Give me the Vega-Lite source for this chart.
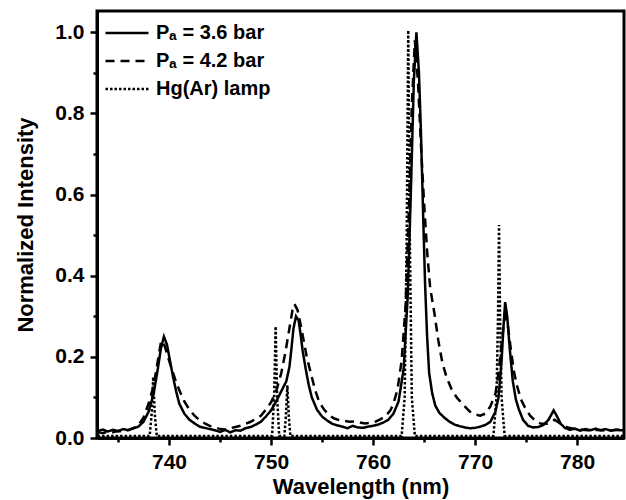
{
  "$schema": "https://vega.github.io/schema/vega-lite/v6.json",
  "width": 527,
  "height": 427,
  "autosize": "none",
  "padding": {"left": 97, "top": 11, "right": 2, "bottom": 62},
  "background": "white",
  "config": {
    "view": {"stroke": "black", "strokeWidth": 3},
    "axis": {
      "grid": false,
      "domainColor": "black",
      "domainWidth": 3,
      "tickColor": "black",
      "tickWidth": 2.5,
      "labelFont": "Liberation Sans",
      "labelFontWeight": "bold",
      "labelFontSize": 21,
      "labelColor": "black",
      "titleFont": "Liberation Sans",
      "titleFontWeight": "bold",
      "titleFontSize": 22,
      "titleColor": "black"
    },
    "legend": {
      "labelFont": "Liberation Sans",
      "labelFontWeight": "bold",
      "labelFontSize": 20,
      "labelColor": "black"
    }
  },
  "data": {
    "values": [
      {"series": "a", "wavelength": 733.0, "intensity": 0.017},
      {"series": "a", "wavelength": 733.5, "intensity": 0.021},
      {"series": "a", "wavelength": 734.0, "intensity": 0.016},
      {"series": "a", "wavelength": 734.5, "intensity": 0.02},
      {"series": "a", "wavelength": 735.0, "intensity": 0.017},
      {"series": "a", "wavelength": 735.5, "intensity": 0.022},
      {"series": "a", "wavelength": 736.0, "intensity": 0.019},
      {"series": "a", "wavelength": 736.5, "intensity": 0.024},
      {"series": "a", "wavelength": 737.0, "intensity": 0.028},
      {"series": "a", "wavelength": 737.5, "intensity": 0.04},
      {"series": "a", "wavelength": 738.0, "intensity": 0.065},
      {"series": "a", "wavelength": 738.5, "intensity": 0.11},
      {"series": "a", "wavelength": 738.9, "intensity": 0.17},
      {"series": "a", "wavelength": 739.2, "intensity": 0.22},
      {"series": "a", "wavelength": 739.5, "intensity": 0.25},
      {"series": "a", "wavelength": 739.8, "intensity": 0.23},
      {"series": "a", "wavelength": 740.1, "intensity": 0.19},
      {"series": "a", "wavelength": 740.4, "intensity": 0.15},
      {"series": "a", "wavelength": 740.7, "intensity": 0.115},
      {"series": "a", "wavelength": 741.0, "intensity": 0.085},
      {"series": "a", "wavelength": 741.5, "intensity": 0.06},
      {"series": "a", "wavelength": 742.0, "intensity": 0.045},
      {"series": "a", "wavelength": 742.5, "intensity": 0.036},
      {"series": "a", "wavelength": 743.0, "intensity": 0.028},
      {"series": "a", "wavelength": 743.5, "intensity": 0.025},
      {"series": "a", "wavelength": 744.0, "intensity": 0.022},
      {"series": "a", "wavelength": 744.5, "intensity": 0.019},
      {"series": "a", "wavelength": 745.0, "intensity": 0.015},
      {"series": "a", "wavelength": 745.5, "intensity": 0.02},
      {"series": "a", "wavelength": 746.0, "intensity": 0.014},
      {"series": "a", "wavelength": 746.5, "intensity": 0.019},
      {"series": "a", "wavelength": 747.0, "intensity": 0.018},
      {"series": "a", "wavelength": 747.5, "intensity": 0.024},
      {"series": "a", "wavelength": 748.0, "intensity": 0.027},
      {"series": "a", "wavelength": 748.5, "intensity": 0.033},
      {"series": "a", "wavelength": 749.0, "intensity": 0.04},
      {"series": "a", "wavelength": 749.5, "intensity": 0.053},
      {"series": "a", "wavelength": 750.0, "intensity": 0.068},
      {"series": "a", "wavelength": 750.5, "intensity": 0.09},
      {"series": "a", "wavelength": 751.0, "intensity": 0.115},
      {"series": "a", "wavelength": 751.5, "intensity": 0.14},
      {"series": "a", "wavelength": 751.8, "intensity": 0.175},
      {"series": "a", "wavelength": 752.0, "intensity": 0.22},
      {"series": "a", "wavelength": 752.2, "intensity": 0.27},
      {"series": "a", "wavelength": 752.45, "intensity": 0.3},
      {"series": "a", "wavelength": 752.7, "intensity": 0.29},
      {"series": "a", "wavelength": 752.9, "intensity": 0.255},
      {"series": "a", "wavelength": 753.1, "intensity": 0.215},
      {"series": "a", "wavelength": 753.4, "intensity": 0.17},
      {"series": "a", "wavelength": 753.7, "intensity": 0.13},
      {"series": "a", "wavelength": 754.0, "intensity": 0.1},
      {"series": "a", "wavelength": 754.5, "intensity": 0.07},
      {"series": "a", "wavelength": 755.0, "intensity": 0.053},
      {"series": "a", "wavelength": 755.5, "intensity": 0.043},
      {"series": "a", "wavelength": 756.0, "intensity": 0.035},
      {"series": "a", "wavelength": 756.5, "intensity": 0.031},
      {"series": "a", "wavelength": 757.0, "intensity": 0.028},
      {"series": "a", "wavelength": 757.5, "intensity": 0.024},
      {"series": "a", "wavelength": 758.0, "intensity": 0.03},
      {"series": "a", "wavelength": 758.5, "intensity": 0.026},
      {"series": "a", "wavelength": 759.0, "intensity": 0.025},
      {"series": "a", "wavelength": 759.5, "intensity": 0.028},
      {"series": "a", "wavelength": 760.0, "intensity": 0.03},
      {"series": "a", "wavelength": 760.5, "intensity": 0.033},
      {"series": "a", "wavelength": 761.0, "intensity": 0.038},
      {"series": "a", "wavelength": 761.5, "intensity": 0.045},
      {"series": "a", "wavelength": 762.0, "intensity": 0.06},
      {"series": "a", "wavelength": 762.5, "intensity": 0.09},
      {"series": "a", "wavelength": 763.0, "intensity": 0.17},
      {"series": "a", "wavelength": 763.4, "intensity": 0.35},
      {"series": "a", "wavelength": 763.7, "intensity": 0.6},
      {"series": "a", "wavelength": 764.0, "intensity": 0.88},
      {"series": "a", "wavelength": 764.25, "intensity": 1.0},
      {"series": "a", "wavelength": 764.5, "intensity": 0.9},
      {"series": "a", "wavelength": 764.7, "intensity": 0.75},
      {"series": "a", "wavelength": 764.9, "intensity": 0.56},
      {"series": "a", "wavelength": 765.1, "intensity": 0.38},
      {"series": "a", "wavelength": 765.3, "intensity": 0.25},
      {"series": "a", "wavelength": 765.5, "intensity": 0.16},
      {"series": "a", "wavelength": 765.8, "intensity": 0.11},
      {"series": "a", "wavelength": 766.1, "intensity": 0.08},
      {"series": "a", "wavelength": 766.5, "intensity": 0.062},
      {"series": "a", "wavelength": 767.0, "intensity": 0.05},
      {"series": "a", "wavelength": 767.5, "intensity": 0.04},
      {"series": "a", "wavelength": 768.0, "intensity": 0.033},
      {"series": "a", "wavelength": 768.5, "intensity": 0.029},
      {"series": "a", "wavelength": 769.0, "intensity": 0.026},
      {"series": "a", "wavelength": 769.5, "intensity": 0.024},
      {"series": "a", "wavelength": 770.0, "intensity": 0.025},
      {"series": "a", "wavelength": 770.5, "intensity": 0.028},
      {"series": "a", "wavelength": 771.0, "intensity": 0.032},
      {"series": "a", "wavelength": 771.5, "intensity": 0.04},
      {"series": "a", "wavelength": 772.0, "intensity": 0.065},
      {"series": "a", "wavelength": 772.3, "intensity": 0.1},
      {"series": "a", "wavelength": 772.6, "intensity": 0.19},
      {"series": "a", "wavelength": 772.8, "intensity": 0.28},
      {"series": "a", "wavelength": 772.95, "intensity": 0.335},
      {"series": "a", "wavelength": 773.15, "intensity": 0.3},
      {"series": "a", "wavelength": 773.4, "intensity": 0.22},
      {"series": "a", "wavelength": 773.7, "intensity": 0.14},
      {"series": "a", "wavelength": 774.0, "intensity": 0.095},
      {"series": "a", "wavelength": 774.3, "intensity": 0.07},
      {"series": "a", "wavelength": 774.7, "intensity": 0.045},
      {"series": "a", "wavelength": 775.2, "intensity": 0.03},
      {"series": "a", "wavelength": 775.7, "intensity": 0.026},
      {"series": "a", "wavelength": 776.2, "intensity": 0.027},
      {"series": "a", "wavelength": 776.7, "intensity": 0.032},
      {"series": "a", "wavelength": 777.2, "intensity": 0.045},
      {"series": "a", "wavelength": 777.7, "intensity": 0.068},
      {"series": "a", "wavelength": 778.0, "intensity": 0.055},
      {"series": "a", "wavelength": 778.4, "intensity": 0.035},
      {"series": "a", "wavelength": 778.8, "intensity": 0.025},
      {"series": "a", "wavelength": 779.3, "intensity": 0.02},
      {"series": "a", "wavelength": 779.8, "intensity": 0.023},
      {"series": "a", "wavelength": 780.3, "intensity": 0.018},
      {"series": "a", "wavelength": 780.8, "intensity": 0.022},
      {"series": "a", "wavelength": 781.3, "intensity": 0.019},
      {"series": "a", "wavelength": 781.8, "intensity": 0.023},
      {"series": "a", "wavelength": 782.3, "intensity": 0.019},
      {"series": "a", "wavelength": 782.8, "intensity": 0.022},
      {"series": "a", "wavelength": 783.3, "intensity": 0.018},
      {"series": "a", "wavelength": 783.8, "intensity": 0.021},
      {"series": "a", "wavelength": 784.3, "intensity": 0.019},
      {"series": "a", "wavelength": 785.0, "intensity": 0.02},

      {"series": "b", "wavelength": 733.0, "intensity": 0.015},
      {"series": "b", "wavelength": 733.5, "intensity": 0.012},
      {"series": "b", "wavelength": 734.0, "intensity": 0.016},
      {"series": "b", "wavelength": 734.5, "intensity": 0.014},
      {"series": "b", "wavelength": 735.0, "intensity": 0.017},
      {"series": "b", "wavelength": 735.5, "intensity": 0.016},
      {"series": "b", "wavelength": 736.0, "intensity": 0.02},
      {"series": "b", "wavelength": 736.5, "intensity": 0.024},
      {"series": "b", "wavelength": 737.0, "intensity": 0.032},
      {"series": "b", "wavelength": 737.5, "intensity": 0.05},
      {"series": "b", "wavelength": 738.0, "intensity": 0.085},
      {"series": "b", "wavelength": 738.5, "intensity": 0.13},
      {"series": "b", "wavelength": 738.9, "intensity": 0.19},
      {"series": "b", "wavelength": 739.2, "intensity": 0.235},
      {"series": "b", "wavelength": 739.35, "intensity": 0.24},
      {"series": "b", "wavelength": 739.6, "intensity": 0.225},
      {"series": "b", "wavelength": 739.9, "intensity": 0.2},
      {"series": "b", "wavelength": 740.2, "intensity": 0.175},
      {"series": "b", "wavelength": 740.6, "intensity": 0.145},
      {"series": "b", "wavelength": 741.0, "intensity": 0.118},
      {"series": "b", "wavelength": 741.5, "intensity": 0.09},
      {"series": "b", "wavelength": 742.0, "intensity": 0.07},
      {"series": "b", "wavelength": 742.5, "intensity": 0.055},
      {"series": "b", "wavelength": 743.0, "intensity": 0.044},
      {"series": "b", "wavelength": 743.5, "intensity": 0.036},
      {"series": "b", "wavelength": 744.0, "intensity": 0.03},
      {"series": "b", "wavelength": 744.5, "intensity": 0.026},
      {"series": "b", "wavelength": 745.0, "intensity": 0.022},
      {"series": "b", "wavelength": 745.5, "intensity": 0.021},
      {"series": "b", "wavelength": 746.0, "intensity": 0.024},
      {"series": "b", "wavelength": 746.5, "intensity": 0.027},
      {"series": "b", "wavelength": 747.0, "intensity": 0.03},
      {"series": "b", "wavelength": 747.5, "intensity": 0.035},
      {"series": "b", "wavelength": 748.0, "intensity": 0.04},
      {"series": "b", "wavelength": 748.5, "intensity": 0.047},
      {"series": "b", "wavelength": 749.0, "intensity": 0.055},
      {"series": "b", "wavelength": 749.5, "intensity": 0.07},
      {"series": "b", "wavelength": 750.0, "intensity": 0.088},
      {"series": "b", "wavelength": 750.5, "intensity": 0.115},
      {"series": "b", "wavelength": 751.0, "intensity": 0.16},
      {"series": "b", "wavelength": 751.4, "intensity": 0.21},
      {"series": "b", "wavelength": 751.8, "intensity": 0.27},
      {"series": "b", "wavelength": 752.1, "intensity": 0.315},
      {"series": "b", "wavelength": 752.3, "intensity": 0.33},
      {"series": "b", "wavelength": 752.6, "intensity": 0.315},
      {"series": "b", "wavelength": 752.9, "intensity": 0.28},
      {"series": "b", "wavelength": 753.2, "intensity": 0.24},
      {"series": "b", "wavelength": 753.5, "intensity": 0.2},
      {"series": "b", "wavelength": 753.9, "intensity": 0.16},
      {"series": "b", "wavelength": 754.3, "intensity": 0.12},
      {"series": "b", "wavelength": 754.7, "intensity": 0.09},
      {"series": "b", "wavelength": 755.2, "intensity": 0.07},
      {"series": "b", "wavelength": 755.7, "intensity": 0.056},
      {"series": "b", "wavelength": 756.2, "intensity": 0.048},
      {"series": "b", "wavelength": 756.7, "intensity": 0.044},
      {"series": "b", "wavelength": 757.2, "intensity": 0.042},
      {"series": "b", "wavelength": 757.7, "intensity": 0.04},
      {"series": "b", "wavelength": 758.2, "intensity": 0.041},
      {"series": "b", "wavelength": 758.7, "intensity": 0.038},
      {"series": "b", "wavelength": 759.2, "intensity": 0.036},
      {"series": "b", "wavelength": 759.7, "intensity": 0.037},
      {"series": "b", "wavelength": 760.2, "intensity": 0.04},
      {"series": "b", "wavelength": 760.7, "intensity": 0.046},
      {"series": "b", "wavelength": 761.2, "intensity": 0.053},
      {"series": "b", "wavelength": 761.7, "intensity": 0.068},
      {"series": "b", "wavelength": 762.0, "intensity": 0.085},
      {"series": "b", "wavelength": 762.4, "intensity": 0.12},
      {"series": "b", "wavelength": 762.8, "intensity": 0.19},
      {"series": "b", "wavelength": 763.2, "intensity": 0.33},
      {"series": "b", "wavelength": 763.5, "intensity": 0.55},
      {"series": "b", "wavelength": 763.8, "intensity": 0.82},
      {"series": "b", "wavelength": 764.1, "intensity": 0.98},
      {"series": "b", "wavelength": 764.4, "intensity": 0.88},
      {"series": "b", "wavelength": 764.7, "intensity": 0.72},
      {"series": "b", "wavelength": 765.0, "intensity": 0.58},
      {"series": "b", "wavelength": 765.3, "intensity": 0.46},
      {"series": "b", "wavelength": 765.6, "intensity": 0.37},
      {"series": "b", "wavelength": 766.0, "intensity": 0.31},
      {"series": "b", "wavelength": 766.4, "intensity": 0.24},
      {"series": "b", "wavelength": 766.8, "intensity": 0.185},
      {"series": "b", "wavelength": 767.2, "intensity": 0.15},
      {"series": "b", "wavelength": 767.7, "intensity": 0.12},
      {"series": "b", "wavelength": 768.2, "intensity": 0.1},
      {"series": "b", "wavelength": 768.9, "intensity": 0.08},
      {"series": "b", "wavelength": 769.5, "intensity": 0.065},
      {"series": "b", "wavelength": 770.0, "intensity": 0.058},
      {"series": "b", "wavelength": 770.5, "intensity": 0.055},
      {"series": "b", "wavelength": 771.0, "intensity": 0.06},
      {"series": "b", "wavelength": 771.5, "intensity": 0.078},
      {"series": "b", "wavelength": 772.0, "intensity": 0.11},
      {"series": "b", "wavelength": 772.3, "intensity": 0.16},
      {"series": "b", "wavelength": 772.6, "intensity": 0.23},
      {"series": "b", "wavelength": 772.85, "intensity": 0.29},
      {"series": "b", "wavelength": 773.0, "intensity": 0.3},
      {"series": "b", "wavelength": 773.2, "intensity": 0.28},
      {"series": "b", "wavelength": 773.5, "intensity": 0.22},
      {"series": "b", "wavelength": 773.8, "intensity": 0.165},
      {"series": "b", "wavelength": 774.1, "intensity": 0.13},
      {"series": "b", "wavelength": 774.5, "intensity": 0.095},
      {"series": "b", "wavelength": 774.9, "intensity": 0.075},
      {"series": "b", "wavelength": 775.4, "intensity": 0.055},
      {"series": "b", "wavelength": 776.0, "intensity": 0.04},
      {"series": "b", "wavelength": 776.5, "intensity": 0.035},
      {"series": "b", "wavelength": 777.0, "intensity": 0.035},
      {"series": "b", "wavelength": 777.5, "intensity": 0.04},
      {"series": "b", "wavelength": 777.8, "intensity": 0.045},
      {"series": "b", "wavelength": 778.2, "intensity": 0.038},
      {"series": "b", "wavelength": 778.7, "intensity": 0.03},
      {"series": "b", "wavelength": 779.2, "intensity": 0.025},
      {"series": "b", "wavelength": 779.7, "intensity": 0.023},
      {"series": "b", "wavelength": 780.2, "intensity": 0.021},
      {"series": "b", "wavelength": 781.0, "intensity": 0.019},
      {"series": "b", "wavelength": 782.0, "intensity": 0.02},
      {"series": "b", "wavelength": 783.0, "intensity": 0.018},
      {"series": "b", "wavelength": 784.0, "intensity": 0.02},
      {"series": "b", "wavelength": 785.0, "intensity": 0.019},

      {"series": "c", "wavelength": 733.0, "intensity": 0.005},
      {"series": "c", "wavelength": 738.1, "intensity": 0.005},
      {"series": "c", "wavelength": 738.3, "intensity": 0.06},
      {"series": "c", "wavelength": 738.45, "intensity": 0.15},
      {"series": "c", "wavelength": 738.6, "intensity": 0.06},
      {"series": "c", "wavelength": 738.8, "intensity": 0.005},
      {"series": "c", "wavelength": 750.1, "intensity": 0.005},
      {"series": "c", "wavelength": 750.3, "intensity": 0.1},
      {"series": "c", "wavelength": 750.45, "intensity": 0.275},
      {"series": "c", "wavelength": 750.6, "intensity": 0.1},
      {"series": "c", "wavelength": 750.8, "intensity": 0.005},
      {"series": "c", "wavelength": 751.3, "intensity": 0.005},
      {"series": "c", "wavelength": 751.45, "intensity": 0.05},
      {"series": "c", "wavelength": 751.6, "intensity": 0.13},
      {"series": "c", "wavelength": 751.75, "intensity": 0.05},
      {"series": "c", "wavelength": 751.9, "intensity": 0.005},
      {"series": "c", "wavelength": 762.8, "intensity": 0.005},
      {"series": "c", "wavelength": 763.1, "intensity": 0.1},
      {"series": "c", "wavelength": 763.3, "intensity": 0.5},
      {"series": "c", "wavelength": 763.45, "intensity": 1.005},
      {"series": "c", "wavelength": 763.6, "intensity": 0.5},
      {"series": "c", "wavelength": 763.8, "intensity": 0.1},
      {"series": "c", "wavelength": 764.1, "intensity": 0.005},
      {"series": "c", "wavelength": 771.8, "intensity": 0.005},
      {"series": "c", "wavelength": 772.1, "intensity": 0.1},
      {"series": "c", "wavelength": 772.25, "intensity": 0.3},
      {"series": "c", "wavelength": 772.35, "intensity": 0.525},
      {"series": "c", "wavelength": 772.45, "intensity": 0.3},
      {"series": "c", "wavelength": 772.6, "intensity": 0.1},
      {"series": "c", "wavelength": 772.9, "intensity": 0.005},
      {"series": "c", "wavelength": 785.0, "intensity": 0.005}
    ]
  },
  "mark": {"type": "line", "color": "black", "strokeWidth": 2.5, "clip": true, "interpolate": "linear"},
  "encoding": {
    "x": {
      "field": "wavelength",
      "type": "quantitative",
      "scale": {"domain": [732.94, 784.6], "nice": false, "zero": false},
      "axis": {
        "title": "Wavelength (nm)",
        "values": [735, 740, 745, 750, 755, 760, 765, 770, 775, 780],
        "labelExpr": "datum.value % 10 === 0 ? datum.label : ''",
        "tickSize": {"condition": {"test": "datum.value % 10 === 0", "value": 7}, "value": 4},
        "labelPadding": 6,
        "titlePadding": 4,
        "labelFlush": false,
        "labelOverlap": false
      }
    },
    "y": {
      "field": "intensity",
      "type": "quantitative",
      "scale": {"domain": [0, 1.0525], "nice": false, "zero": false},
      "axis": {
        "title": "Normalized Intensity",
        "values": [0, 0.1, 0.2, 0.3, 0.4, 0.5, 0.6, 0.7, 0.8, 0.9, 1.0],
        "format": ".1f",
        "labelExpr": "round(datum.value * 10) % 2 === 0 ? datum.label : ''",
        "tickSize": {"condition": {"test": "round(datum.value * 10) % 2 === 0", "value": 7}, "value": 4},
        "labelPadding": 6,
        "titlePadding": 17,
        "labelFlush": false,
        "labelOverlap": false
      }
    },
    "strokeDash": {
      "field": "series",
      "type": "nominal",
      "scale": {"domain": ["a", "b", "c"], "range": [[1, 0], [9, 6], [2.5, 2]]},
      "legend": {
        "orient": "none",
        "legendX": 18,
        "legendY": 10,
        "title": null,
        "symbolType": "M-2,0H2",
        "symbolSize": 462,
        "symbolStrokeWidth": 2.5,
        "symbolStrokeColor": "black",
        "rowPadding": 6,
        "labelOffset": 17,
        "labelExpr": "datum.value === 'a' ? 'Pₐ = 3.6 bar' : datum.value === 'b' ? 'Pₐ = 4.2 bar' : 'Hg(Ar) lamp'"
      }
    }
  }
}
